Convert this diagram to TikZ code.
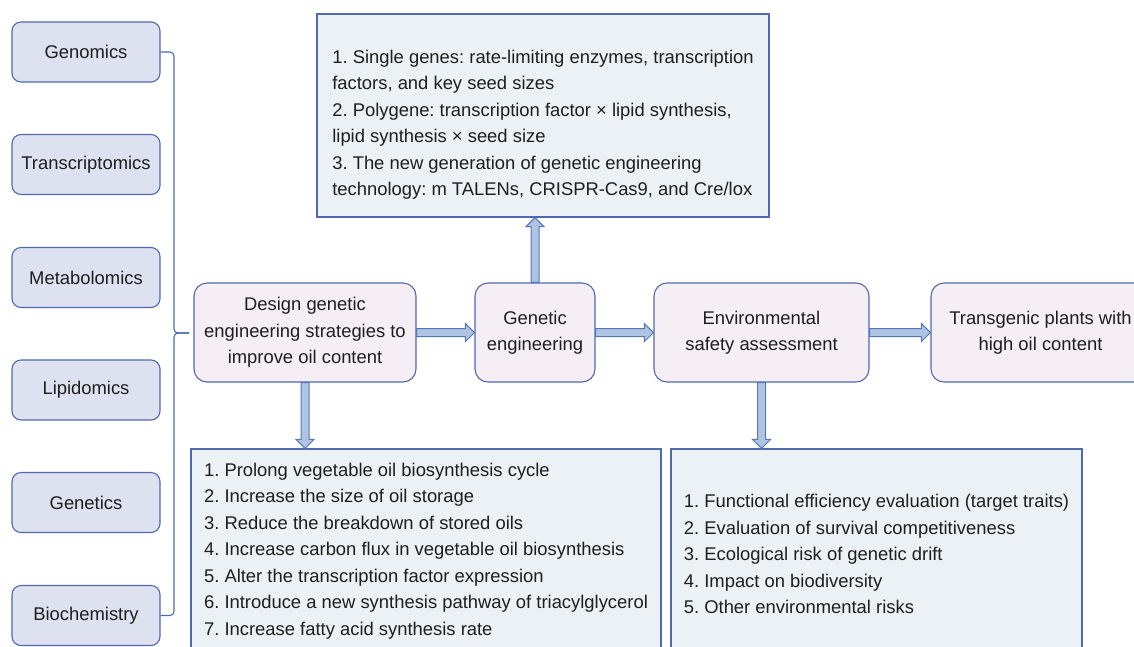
\documentclass[tikz,border=0pt]{standalone}
\usepackage{fontspec}
\setmainfont{Liberation Sans}
\usepackage{tikz}
\usetikzlibrary{calc}
\usetikzlibrary{positioning}
\definecolor{boxline}{HTML}{4F6AAE}
\definecolor{omicsfill}{HTML}{DDE1F0}
\definecolor{stagefill}{HTML}{F5EEF4}
\definecolor{listfill}{HTML}{ECF1F6}
\definecolor{arrowfill}{HTML}{AFC3E3}
\definecolor{arrowline}{HTML}{5577B8}
\definecolor{txt}{HTML}{1E1E1E}
\newcommand{\diagfont}{\fontsize{18.4}{26.5}\selectfont}
\frenchspacing
\tikzset{
  fatarrow/.style={
    draw=arrowline, fill=arrowfill, line width=1pt,
    to path={
      let \p1=($(\tikztotarget)!9pt!(\tikztostart)$) in
      ($(\tikztostart)!4pt!90:(\tikztotarget)$)
      -- ($(\p1)!4pt!-90:(\tikztostart)$)
      -- ($(\p1)!9pt!-90:(\tikztostart)$)
      -- (\tikztotarget)
      -- ($(\p1)!9pt!90:(\tikztostart)$)
      -- ($(\p1)!4pt!90:(\tikztostart)$)
      -- ($(\tikztostart)!4pt!-90:(\tikztotarget)$)
      -- cycle
    }
  },
}

\begin{document}
\begin{tikzpicture}[x=1pt,y=-1pt,
omics/.style={rectangle,rounded corners=9pt,draw=boxline,fill=omicsfill,
line width=1.1pt,minimum width=148pt,minimum height=60pt,
text=txt,font=\diagfont},
stage/.style={rectangle,rounded corners=13pt,draw=boxline,fill=stagefill,
line width=1.1pt,minimum height=99pt,align=center,
text=txt,font=\diagfont},
listbox/.style={rectangle,draw=boxline,fill=listfill,
line width=1.1pt,align=left,text=txt,font=\diagfont},
bracket/.style={draw=boxline,line width=1.1pt,rounded corners=4pt},
]
\useasboundingbox (0,0) rectangle (1134,646);
\clip (0,0) rectangle (1134,646);

% omics data on the left
\node (genom) [omics] at (86,52) {Genomics};
\node (trans) [omics] at (86,164.5) {Transcriptomics};
\node (metab) [omics] at (86,277.5) {Metabolomics};
\node (lipid) [omics] at (86,390) {Lipidomics};
\node (genet) [omics] at (86,502.5) {Genetics};
\node (bio) [omics] at (86,615.5) {Biochemistry};

% main line
\node (dsg) [stage,minimum width=222pt] at (305,332.5)
  {Design genetic\\engineering strategies to\\improve oil content};
\node (ge) [stage,minimum width=120pt] at (535,332.5) {Genetic\\engineering};
\node (env) [stage,minimum width=215pt] at (761.5,332.5)
  {Environmental\\safety assessment};
\node (tg) [stage,minimum width=219pt] at (1040.5,332.5)
  {Transgenic plants with\\high oil content};

% detail boxes
\node (top) [listbox,minimum width=452pt,minimum height=203pt] at (543,115.5)
  {\rule{0pt}{32pt}1. Single genes: rate-limiting enzymes, transcription\\
   factors, and key seed sizes\\
   2. Polygene: transcription factor × lipid synthesis,\\
   lipid synthesis × seed size\\
   3. The new generation of genetic engineering\\
   technology: m TALENs, CRISPR-Cas9, and Cre/lox};
\node (bl) [listbox,minimum width=470pt,minimum height=204pt] at (426,551)
  {1. Prolong vegetable oil biosynthesis cycle\\
   2. Increase the size of oil storage\\
   3. Reduce the breakdown of stored oils\\
   4. Increase carbon flux in vegetable oil biosynthesis\\
   5. Alter the transcription factor expression\\
   6. Introduce a new synthesis pathway of triacylglycerol\\
   7. Increase fatty acid synthesis rate};
\node (br) [listbox,minimum width=411pt,minimum height=210pt] at (876.5,554)
  {1. Functional efficiency evaluation (target traits)\\
   2. Evaluation of survival competitiveness\\
   3. Ecological risk of genetic drift\\
   4. Impact on biodiversity\\
   5. Other environmental risks};

% brace
\coordinate (tip) at (189,333);
\draw[bracket] (genom.east) -| (174,333) -- (tip);
\draw[bracket] (bio.east) -| (174,333) -- (tip);

% arrows
\coordinate (topin) at (ge.north |- top.south);
\coordinate (blin) at (dsg.south |- bl.north);
\coordinate (brin) at (env.south |- br.north);
\draw[fatarrow] (dsg.east) to (ge.west);
\draw[fatarrow] (ge.east) to (env.west);
\draw[fatarrow] (env.east) to (tg.west);
\draw[fatarrow] (ge.north) to (topin);
\draw[fatarrow] (dsg.south) to (blin);
\draw[fatarrow] (env.south) to (brin);
\end{tikzpicture}
\end{document}
